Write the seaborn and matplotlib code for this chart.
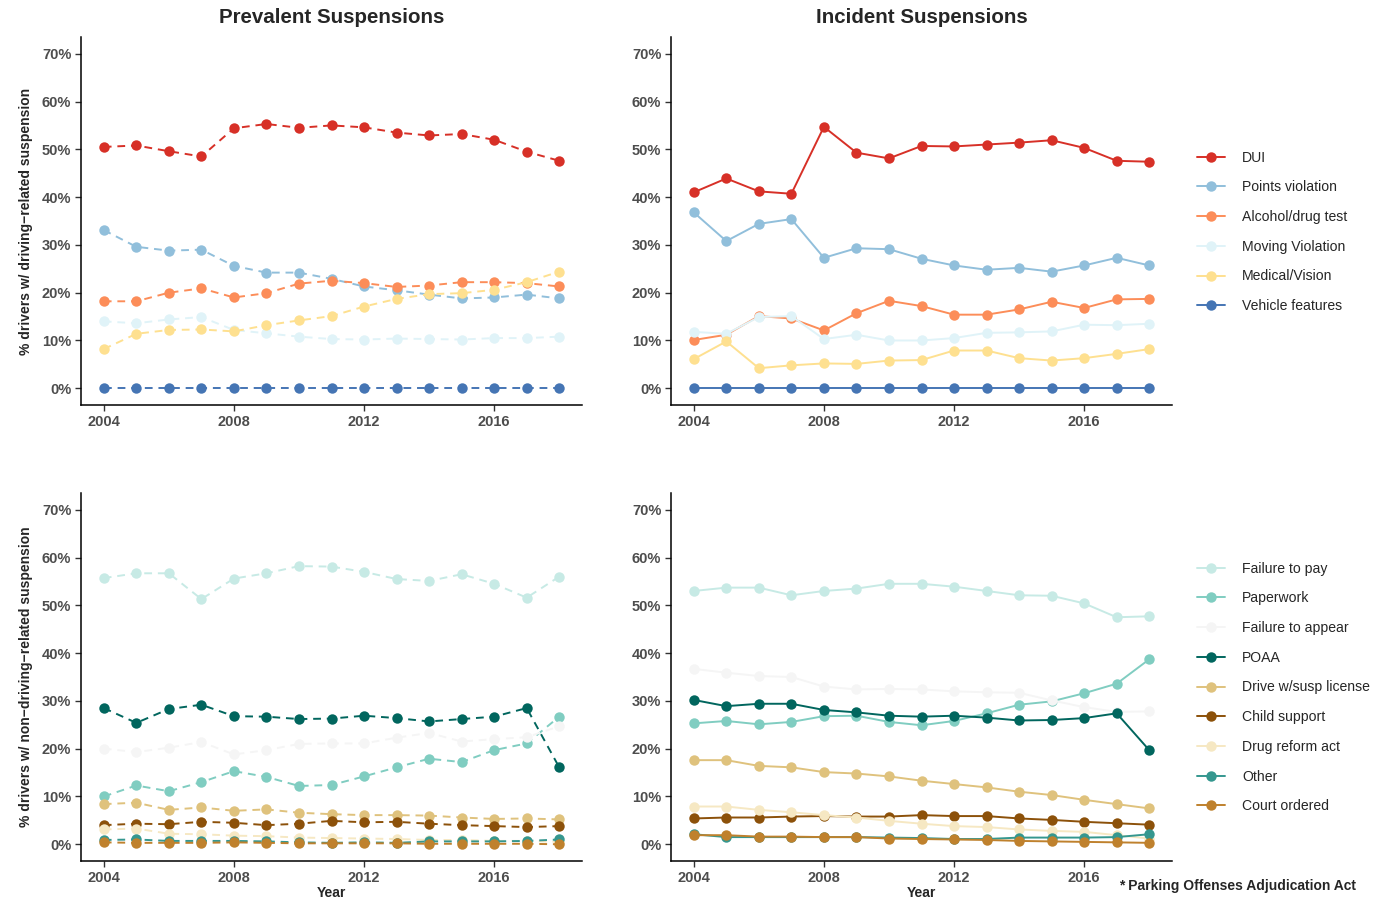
import matplotlib
matplotlib.use('Agg')
import matplotlib.pyplot as plt
from matplotlib.lines import Line2D
from matplotlib.ticker import FuncFormatter
import seaborn as sns

# years shared by all panels
years = list(range(2004, 2019))

# driving-related suspensions
driving_cats = ['DUI', 'Points violation', 'Alcohol/drug test', 'Moving Violation',
                'Medical/Vision', 'Vehicle features']
driving_colors = ['#d73027', '#91bfdb', '#fc8d59', '#e0f3f8', '#fee090', '#4575b4']

prev_dui = [50.5, 50.8, 49.6, 48.5, 54.4, 55.3, 54.5, 55.0, 54.6, 53.5, 52.9, 53.2, 52.0, 49.5, 47.6]
prev_points = [33.1, 29.6, 28.8, 29.0, 25.6, 24.2, 24.2, 22.9, 21.3, 20.5, 19.6, 18.8, 19.0, 19.6, 18.8]
prev_alcohol = [18.2, 18.2, 20.0, 20.9, 19.0, 19.9, 21.9, 22.5, 22.0, 21.2, 21.5, 22.2, 22.2, 22.0, 21.3]
prev_moving = [14.0, 13.6, 14.4, 14.9, 12.2, 11.5, 10.8, 10.3, 10.2, 10.4, 10.3, 10.2, 10.5, 10.5, 10.8]
prev_medical = [8.2, 11.4, 12.2, 12.3, 11.9, 13.2, 14.2, 15.1, 17.1, 18.7, 19.7, 19.9, 20.6, 22.2, 24.4]
prev_vehicle = [0.0] * 15

inc_dui = [41.0, 43.9, 41.2, 40.7, 54.7, 49.3, 48.1, 50.7, 50.6, 51.0, 51.4, 51.9, 50.3, 47.6, 47.4]
inc_points = [36.8, 30.8, 34.4, 35.4, 27.3, 29.3, 29.1, 27.1, 25.7, 24.8, 25.2, 24.4, 25.7, 27.3, 25.7]
inc_alcohol = [10.1, 11.2, 15.1, 14.6, 12.1, 15.7, 18.3, 17.2, 15.4, 15.4, 16.5, 18.1, 16.8, 18.6, 18.7]
inc_moving = [11.8, 11.4, 14.9, 15.1, 10.3, 11.2, 10.0, 10.0, 10.5, 11.6, 11.7, 11.9, 13.3, 13.2, 13.5]
inc_medical = [6.1, 9.8, 4.2, 4.8, 5.2, 5.1, 5.8, 5.9, 7.9, 7.9, 6.3, 5.8, 6.3, 7.2, 8.2]
inc_vehicle = [0.0] * 15

# non-driving-related suspensions
nondriving_cats = ['Failure to pay', 'Paperwork', 'Failure to appear', 'POAA',
                   'Drive w/susp license', 'Child support', 'Drug reform act', 'Other',
                   'Court ordered']
nondriving_colors = ['#c7eae5', '#80cdc1', '#f5f5f5', '#01665e', '#dfc27d', '#8c510a',
                     '#f6e8c3', '#35978f', '#bf812d']

prev_pay = [55.7, 56.7, 56.7, 51.3, 55.6, 56.7, 58.2, 58.1, 57.0, 55.5, 55.1, 56.5, 54.5, 51.6, 56.0]
prev_paperwork = [10.0, 12.3, 11.1, 13.0, 15.3, 14.1, 12.2, 12.4, 14.2, 16.1, 17.9, 17.2, 19.7, 21.1, 26.7]
prev_appear = [20.0, 19.3, 20.2, 21.4, 18.8, 19.7, 21.0, 21.1, 21.1, 22.3, 23.3, 21.5, 22.0, 22.4, 24.7]
prev_poaa = [28.5, 25.4, 28.3, 29.2, 26.8, 26.7, 26.2, 26.3, 26.9, 26.4, 25.7, 26.2, 26.7, 28.5, 16.1]
prev_drive = [8.4, 8.7, 7.2, 7.7, 7.0, 7.3, 6.6, 6.3, 6.1, 6.1, 6.0, 5.6, 5.3, 5.4, 5.2]
prev_child = [4.0, 4.3, 4.2, 4.7, 4.5, 4.0, 4.3, 4.9, 4.6, 4.7, 4.3, 4.0, 3.8, 3.6, 3.8]
prev_drug = [3.1, 3.3, 2.2, 2.1, 1.8, 1.7, 1.4, 1.3, 1.2, 1.1, 0.9, 0.9, 0.7, 0.7, 0.5]
prev_other = [0.9, 1.0, 0.7, 0.7, 0.7, 0.6, 0.4, 0.3, 0.4, 0.3, 0.6, 0.6, 0.6, 0.7, 1.0]
prev_court = [0.4, 0.3, 0.3, 0.3, 0.4, 0.3, 0.2, 0.2, 0.2, 0.2, 0.1, 0.1, 0.1, 0.1, 0.0]

inc_pay = [53.0, 53.7, 53.7, 52.1, 53.0, 53.5, 54.5, 54.5, 53.9, 53.0, 52.1, 52.0, 50.4, 47.5, 47.7]
inc_paperwork = [25.3, 25.8, 25.1, 25.6, 26.8, 26.9, 25.6, 24.9, 25.8, 27.4, 29.2, 29.9, 31.6, 33.6, 38.7]
inc_appear = [36.7, 35.9, 35.2, 35.0, 33.0, 32.4, 32.5, 32.4, 32.0, 31.8, 31.7, 30.1, 28.7, 27.7, 27.8]
inc_poaa = [30.2, 28.9, 29.4, 29.4, 28.1, 27.6, 26.9, 26.7, 26.9, 26.5, 25.9, 26.0, 26.4, 27.4, 19.7]
inc_drive = [17.6, 17.6, 16.4, 16.1, 15.1, 14.8, 14.2, 13.3, 12.6, 11.9, 11.0, 10.3, 9.3, 8.4, 7.5]
inc_child = [5.4, 5.6, 5.6, 5.8, 5.9, 5.8, 5.8, 6.1, 5.9, 5.9, 5.4, 5.1, 4.7, 4.4, 4.1]
inc_drug = [7.9, 7.9, 7.2, 6.7, 6.1, 5.6, 4.9, 4.3, 3.8, 3.6, 3.1, 2.8, 2.6, 1.9, 1.2]
inc_other = [2.1, 1.5, 1.5, 1.5, 1.5, 1.5, 1.4, 1.3, 1.1, 1.1, 1.4, 1.4, 1.4, 1.5, 2.1]
inc_court = [1.9, 1.9, 1.6, 1.6, 1.5, 1.5, 1.2, 1.1, 1.0, 0.9, 0.7, 0.6, 0.5, 0.4, 0.3]

prev_driving = [prev_dui, prev_points, prev_alcohol, prev_moving, prev_medical, prev_vehicle]
inc_driving = [inc_dui, inc_points, inc_alcohol, inc_moving, inc_medical, inc_vehicle]
prev_nondriving = [prev_pay, prev_paperwork, prev_appear, prev_poaa, prev_drive, prev_child,
                   prev_drug, prev_other, prev_court]
inc_nondriving = [inc_pay, inc_paperwork, inc_appear, inc_poaa, inc_drive, inc_child,
                  inc_drug, inc_other, inc_court]

sns.set_theme(style='ticks')
plt.rcParams['font.family'] = ['Liberation Sans', 'DejaVu Sans']

tick_gray = '#4d4d4d'
W, H = 1376, 902


def box(left, top, right, bottom):
    return [left / W, 1 - bottom / H, (right - left) / W, (bottom - top) / H]


def draw_panel(ax, series, colors, dashed):
    ls = (0, (4, 3)) if dashed else '-'
    for vals, col in zip(series, colors):
        sns.lineplot(x=years, y=vals, ax=ax, color=col, linestyle=ls, linewidth=1.4,
                     marker='o', markersize=7.5, markeredgewidth=0, markeredgecolor=col)
    ax.set_xlim(2003.3, 2018.7)
    ax.set_ylim(-3.5, 73.5)
    ax.set_xticks([2004, 2008, 2012, 2016])
    ax.set_yticks(range(0, 71, 10))
    ax.yaxis.set_major_formatter(FuncFormatter(lambda v, p: f'{int(v)}%'))
    sns.despine(ax=ax)
    for s in ['left', 'bottom']:
        ax.spines[s].set_color('black')
        ax.spines[s].set_linewidth(1.1)
    ax.tick_params(axis='both', colors='#333333', labelcolor=tick_gray, length=4, width=1,
                   labelsize=10.5, pad=3)
    for lab in ax.get_xticklabels() + ax.get_yticklabels():
        lab.set_fontweight('bold')
    ax.set_xlabel('')
    ax.set_ylabel('')


fig = plt.figure(figsize=(W / 100, H / 100), dpi=100)

ax_tl = fig.add_axes(box(81, 37, 582, 405))
ax_tr = fig.add_axes(box(671, 37, 1172, 405))
ax_bl = fig.add_axes(box(81, 493, 582, 861))
ax_br = fig.add_axes(box(671, 493, 1172, 861))

draw_panel(ax_tl, prev_driving, driving_colors, True)
draw_panel(ax_tr, inc_driving, driving_colors, False)
draw_panel(ax_bl, prev_nondriving, nondriving_colors, True)
draw_panel(ax_br, inc_nondriving, nondriving_colors, False)

ax_tl.set_title('Prevalent Suspensions', fontsize=14.8, fontweight='bold', pad=10)
ax_tr.set_title('Incident Suspensions', fontsize=14.8, fontweight='bold', pad=10)

ax_tl.set_ylabel('% drivers w/ driving\u2212related suspension', fontsize=10,
                 fontweight='bold', labelpad=6)
ax_bl.set_ylabel('% drivers w/ non\u2212driving\u2212related suspension', fontsize=10,
                 fontweight='bold', labelpad=6)
ax_bl.set_xlabel('Year', fontsize=10, fontweight='bold', labelpad=1)
ax_br.set_xlabel('Year', fontsize=10, fontweight='bold', labelpad=1)


def legend_handles(cats, colors):
    return [Line2D([0], [0], color=c, linewidth=1.4, marker='o', markersize=7.5,
                   markeredgewidth=0, label=l) for l, c in zip(cats, colors)]


leg_kw = dict(loc='upper left', frameon=False, fontsize=10.1, labelspacing=1.12,
              handlelength=2.0, handletextpad=1.25, borderaxespad=0)
fig.legend(handles=legend_handles(driving_cats, driving_colors),
           bbox_to_anchor=(1191 / W, 1 - 145 / H), **leg_kw)
fig.legend(handles=legend_handles(nondriving_cats, nondriving_colors),
           bbox_to_anchor=(1191 / W, 1 - 556 / H), **leg_kw)

fig.text(1356 / W, 1 - 886 / H, '* Parking Offenses Adjudication Act', ha='right',
         va='center', fontsize=10, fontweight='bold')

fig.savefig('out.png', dpi=100)
